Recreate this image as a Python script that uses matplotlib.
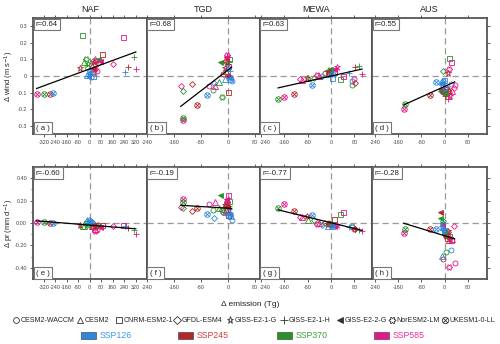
import numpy as np
import matplotlib
matplotlib.use("Agg")
import matplotlib.pyplot as plt
import matplotlib.transforms as mtransforms
from matplotlib.path import Path
from matplotlib.lines import Line2D
from matplotlib.patches import Rectangle

plt.rcParams["font.family"] = ["Liberation Sans", "DejaVu Sans"]

# ---------------- data ----------------
regions = ["NAF", "TGD", "MEWA", "AUS"]
models = ["CESM2-WACCM", "CESM2", "CNRM-ESM2-1", "GFDL-ESM4", "GISS-E2-1-G",
          "GISS-E2-1-H", "GISS-E2-2-G", "NorESM2-LM", "UKESM1-0-LL"]
ssps = ["SSP126", "SSP245", "SSP370", "SSP585"]
r_wind = ["r=0.64", "r=0.68", "r=0.63", "r=0.55"]
r_pr = ["r=-0.60", "r=-0.19", "r=-0.77", "r=-0.28"]

# model index, ssp index (0=126,1=245,2=370,3=585), emission change, wind change, pr change
naf_model = [8, 8, 8, 8, 2, 2, 2, 2, 5, 5, 5, 5, 3, 3, 3, 3, 4, 4, 4, 4, 1, 1, 1, 1, 0, 0, 0, 0, 7, 7, 7, 7, 6, 6, 6, 6]
naf_ssp = [3, 2, 1, 0, 2, 3, 1, 0, 2, 1, 3, 0, 3, 1, 2, 0, 1, 3, 2, 0, 2, 3, 1, 0, 2, 3, 1, 0, 2, 3, 1, 0, 0, 1, 2, 3]
naf_emis = [-370, -320, -275, -258, -53, 230, 87, 20, 310, 267, 322, 245, 165, 60, 20, 10, -70, 30, -10, -5,
            -38, 40, 15, -15, -15, 50, 25, 10, -24, 35, 45, 5, -10, 20, 55, 70]
naf_wind = [-0.11, -0.11, -0.11, -0.105, 0.245, 0.235, 0.13, 0.0, 0.117, 0.057, 0.045, 0.027, 0.072, 0.08, 0.09, 0.02,
            0.05, 0.085, 0.07, 0.01, 0.084, 0.10, 0.06, 0.005, 0.055, 0.03, 0.02, -0.005, 0.10, 0.04, 0.09, 0.03,
            0.0, 0.05, 0.10, 0.09]
naf_pr = [0.006, 0.012, -0.003, -0.002, -0.03, -0.018, -0.02, -0.02, -0.06, -0.045, -0.097, -0.03, -0.026, -0.02, 0.0, 0.02,
          -0.02, -0.04, -0.01, 0.03, -0.03, -0.05, -0.03, 0.025, -0.02, -0.06, -0.04, 0.01, 0.0, -0.07, -0.03, 0.0,
          0.02, -0.02, -0.03, -0.04]

tgd_model = [8, 8, 8, 8, 3, 3, 3, 3, 0, 0, 0, 0, 1, 1, 1, 1, 2, 2, 2, 2, 4, 4, 4, 4, 5, 5, 5, 5, 6, 6, 6, 6, 7, 7, 7, 7]
tgd_ssp = [3, 1, 0, 2, 3, 2, 1, 0, 2, 3, 0, 1, 3, 2, 0, 1, 3, 2, 1, 0, 3, 2, 1, 0, 3, 2, 1, 0, 2, 3, 1, 0, 3, 2, 1, 0]
tgd_emis = [-132, -91, -61, -133, -140, -132, -106, -42, -45, -55, 11, -16, -38, -26, -10, -5, 0, 2, 1, 5,
            -4, -2, -8, 2, -2, 4, 0, 6, -24, -6, -3, 3, -3, -19, -5, 0]
tgd_wind = [-0.264, -0.178, -0.112, -0.255, -0.061, -0.092, -0.049, -0.04, -0.082, -0.06, -0.03, 0.012,
            -0.06, -0.035, -0.02, 0.03, 0.06, 0.10, -0.096, -0.02, 0.108, 0.08, 0.05, 0.0, 0.12, 0.09, 0.07, 0.03,
            0.085, 0.115, 0.0, -0.01, 0.125, -0.127, 0.09, 0.05]
tgd_pr = [0.218, 0.135, 0.077, 0.19, 0.144, 0.135, 0.106, 0.047, 0.115, 0.167, 0.026, 0.10,
          0.186, 0.13, 0.10, 0.12, 0.247, 0.20, 0.075, 0.06, 0.17, 0.18, 0.16, 0.12, 0.20, 0.15, 0.10, 0.09,
          0.253, 0.21, 0.14, 0.08, 0.19, 0.12, 0.15, 0.07]

mewa_model = [8, 8, 8, 8, 1, 1, 1, 1, 0, 0, 0, 0, 3, 3, 3, 3, 2, 2, 2, 2, 5, 5, 5, 5, 4, 4, 4, 4, 6, 6, 6, 6, 7, 7, 7, 7]
mewa_ssp = [2, 3, 1, 0, 3, 2, 1, 0, 2, 0, 3, 1, 1, 3, 2, 0, 0, 2, 3, 1, 2, 1, 3, 0, 3, 2, 1, 0, 3, 2, 1, 0, 3, 2, 1, 0]
mewa_emis = [-181, -160, -128, -66, -100, -78, -40, -10, 70, 70, 78, -20, 82, -106, -58, -30, 2, 31, 40, 10,
             95, 82, 106, 60, 22, -10, -83, 0, 10, -5, -15, -3, -49, -2, -8, 5]
mewa_wind = [-0.137, -0.127, -0.106, -0.055, -0.025, -0.015, 0.0, 0.01, -0.055, -0.03, -0.02, 0.02,
             -0.04, -0.02, -0.01, 0.0, -0.014, -0.018, 0.0, 0.026, 0.063, 0.053, 0.012, 0.02,
             0.057, 0.03, -0.01, 0.026, 0.045, 0.04, 0.03, 0.02, 0.006, 0.035, 0.02, 0.015]
mewa_pr = [0.13, 0.174, 0.106, 0.07, 0.05, 0.03, 0.0, -0.03, -0.04, -0.026, -0.05, 0.0,
           -0.05, 0.056, 0.03, -0.02, -0.023, 0.077, 0.10, 0.035, -0.06, -0.055, -0.07, -0.04,
           -0.02, -0.01, 0.064, -0.015, -0.03, -0.01, 0.0, -0.02, -0.01, 0.0, -0.005, -0.02]

aus_model = [8, 8, 8, 8, 6, 6, 6, 6, 0, 0, 0, 0, 1, 1, 1, 1, 3, 3, 3, 3, 2, 2, 2, 2, 5, 5, 5, 5, 4, 4, 4, 4, 7, 7, 7, 7]
aus_ssp = [3, 2, 1, 0, 1, 2, 0, 3, 2, 0, 3, 1, 0, 3, 2, 1, 2, 3, 0, 1, 2, 3, 0, 1, 3, 2, 1, 0, 1, 2, 3, 0, 3, 2, 1, 0]
aus_emis = [-141, -137, -50, -31, -17, -15, -14, -10, 3, 23, 34, -7, -9, 25, 10, 15, -5, 31, -6, 10,
            15, 20, -2, 8, 11, 5, 0, -5, 12, 3, 18, -8, 13, 0, 5, 2]
aus_wind = [-0.198, -0.168, -0.112, -0.035, -0.08, -0.09, -0.04, -0.10, -0.07, -0.05, -0.055, -0.09,
            -0.03, -0.09, -0.12, -0.085, 0.031, -0.075, -0.03, -0.10, 0.108, 0.082, -0.025, -0.09,
            -0.137, -0.11, -0.12, -0.05, 0.02, -0.10, -0.12, -0.06, 0.04, -0.105, -0.08, -0.07]
aus_pr = [-0.085, -0.053, -0.053, -0.053, 0.10, 0.046, 0.0, -0.02, -0.26, -0.238, -0.356, -0.32,
          -0.296, -0.14, -0.11, -0.15, 0.018, -0.026, -0.05, -0.08, -0.12, -0.15, -0.06, -0.13,
          -0.10, -0.09, -0.10, -0.06, -0.07, -0.11, -0.13, -0.04, -0.394, -0.10, -0.12, -0.07]

xlims = [(-395, 400), (-240, 95), (-243, 140), (-250, 145)]
xticks = [[-320, -240, -160, -80, 0, 80, 160, 240, 320],
          [-240, -160, -80, 0, 80], [-240, -160, -80, 0, 80], [-240, -160, -80, 0, 80]]

# ---------------- style ----------------
ssp_colors = ["#2f86e0", "#b5262a", "#2a922a", "#e8148a"]
ssp_text_colors = ["#3b95f0", "#d43c3c", "#3aa13a", "#f0309a"]

circ = Path.unit_circle()
c = 0.7071
xlines = Path([[-c, -c], [c, c], [-c, c], [c, -c]],
              [Path.MOVETO, Path.LINETO, Path.MOVETO, Path.LINETO])
otimes = Path.make_compound_path(circ, xlines)
th = np.linspace(0, 2 * np.pi, 73)
rr = 0.78 + 0.22 * np.cos(6 * th)
flower = Path(np.column_stack([rr * np.cos(th), rr * np.sin(th)]), closed=True)
marker_list = ["o", "^", "s", "D", "*", "+", "<", flower, otimes]
marker_sizes = [3.6, 3.8, 3.6, 3.0, 4.6, 4.6, 3.6, 4.4, 4.0]

fig = plt.figure(figsize=(5.0, 3.44), dpi=100)
W, H = 500.0, 344.0
col_edges = [33, 147, 260, 372, 487]
rows = [(18, 134), (167, 279)]

data = {
    "NAF": (naf_model, naf_ssp, naf_emis, naf_wind, naf_pr),
    "TGD": (tgd_model, tgd_ssp, tgd_emis, tgd_wind, tgd_pr),
    "MEWA": (mewa_model, mewa_ssp, mewa_emis, mewa_wind, mewa_pr),
    "AUS": (aus_model, aus_ssp, aus_emis, aus_wind, aus_pr),
}
letters = "abcdefgh"
spine_c = "#555555"

for ri, (ytop, ybot) in enumerate(rows):
    for ci, reg in enumerate(regions):
        x0, x1 = col_edges[ci], col_edges[ci + 1]
        ax = fig.add_axes([x0 / W, 1 - ybot / H, (x1 - x0) / W, (ybot - ytop) / H])
        mdl, sp, ex, wd, pr = data[reg]
        yv = wd if ri == 0 else pr
        ax.axhline(0, color="#999999", lw=0.9, ls=(0, (5, 3)), zorder=1)
        ax.axvline(0, color="#999999", lw=0.9, ls=(0, (5, 3)), zorder=1)
        for m, s, xv, yy in zip(mdl, sp, ex, yv):
            col = ssp_colors[s]
            mk = marker_list[m]
            filled = (m == 6)
            ax.plot([xv], [yy], ls="none", marker=mk, ms=marker_sizes[m],
                    mfc=col if filled else "none", mec=col, mew=0.6, zorder=2)
        xa = np.array(ex, float)
        ya = np.array(yv, float)
        p = np.polyfit(xa, ya, 1)
        xs = np.array([xa.min(), xa.max()])
        ax.plot(xs, np.polyval(p, xs), color="black", lw=0.9, zorder=3)
        ax.set_xlim(*xlims[ci])
        ax.set_xticks(xticks[ci])
        ax.set_xticklabels([str(t) for t in xticks[ci]])
        if ri == 0:
            ax.set_ylim(-0.35, 0.35)
            yt = [-0.3, -0.2, -0.1, 0, 0.1, 0.2, 0.3]
            ax.set_yticks(yt)
            ax.set_yticklabels(["-0.3", "-0.2", "-0.1", "0", "0.1", "0.2", "0.3"])
        else:
            ax.set_ylim(-0.5, 0.5)
            yt = [-0.4, -0.2, 0, 0.2, 0.4]
            ax.set_yticks(yt)
            ax.set_yticks([-0.3, -0.1, 0.1, 0.3], minor=True)
            ax.set_yticklabels(["-0.40", "-0.20", "0.00", "0.20", "0.40"])
        for sname, spn in ax.spines.items():
            spn.set_color(spine_c)
            spn.set_linewidth(1.3)
        ax.tick_params(axis="both", which="both", direction="out", length=2.5, width=0.6,
                       colors="#444444", labelsize=3.9, pad=1.8,
                       top=True, bottom=True,
                       left=(ci == 0), labelleft=(ci == 0),
                       right=(ci == 3), labelright=False)
        ax.tick_params(axis="both", which="minor", length=1.6)
        if ci == 2:
            first = ax.get_xticklabels()[0]
            first.set_transform(first.get_transform() +
                                mtransforms.ScaledTranslation(4 / 100, 0, fig.dpi_scale_trans))
        rt = r_wind[ci] if ri == 0 else r_pr[ci]
        ax.text(0.025, 0.975, rt, transform=ax.transAxes, ha="left", va="top", fontsize=5.6,
                color="#222222", zorder=5,
                bbox=dict(boxstyle="square,pad=0.3", fc="white", ec="#777777", lw=0.8))
        lab = "( %s )" % letters[ri * 4 + ci]
        ax.text(0.025, 0.02, lab, transform=ax.transAxes, ha="left", va="bottom", fontsize=5.6,
                color="#222222", zorder=5,
                bbox=dict(boxstyle="square,pad=0.3", fc="white", ec="#777777", lw=0.8))
        if ri == 0:
            ax.set_title(reg, fontsize=6.5, pad=4, color="#222222")
        if ci == 0:
            ax.set_ylabel("Δ wind (m s$^{-1}$)" if ri == 0 else "Δ pr (mm d$^{-1}$)",
                          fontsize=5.4, color="#222222")
            ax.yaxis.set_label_coords(-0.15, 0.5)

fig.text(250 / W, 1 - 305 / H, "Δ emission (Tg)", ha="center", va="center", fontsize=6, color="#222222")

# legend row 1: models
leg_mx = [16, 80, 119, 177, 230, 284, 340, 392, 445]
ly = 1 - 320 / H
for i, mname in enumerate(models):
    mx = leg_mx[i] / W
    filled = (i == 6)
    fig.add_artist(Line2D([mx], [ly], ls="none", marker=marker_list[i], ms=marker_sizes[i] + 0.6,
                          mfc="#333333" if filled else "none", mec="#333333", mew=0.6,
                          transform=fig.transFigure))
    fig.text(mx + 4.5 / W, ly, mname, ha="left", va="center", fontsize=5.0, color="#222222")

# legend row 2: scenarios
sx = [81, 178, 277, 374]
sy = 1 - 335 / H
for i, s in enumerate(ssps):
    fig.add_artist(Rectangle((sx[i] / W, sy - 3.5 / H), 15 / W, 7 / H, transform=fig.transFigure,
                             fc=ssp_colors[i], ec="#333333", lw=0.4))
    fig.text((sx[i] + 19) / W, sy, s, ha="left", va="center", fontsize=6.3, color=ssp_text_colors[i])

fig.savefig("out.png", dpi=100)
